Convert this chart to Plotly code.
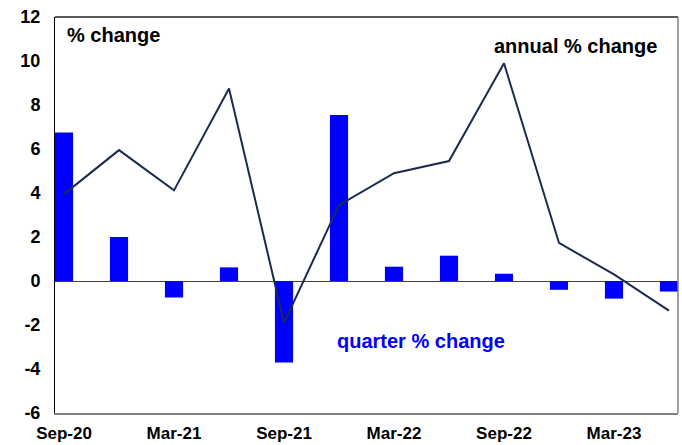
import plotly.graph_objects as go

quarters = ["Sep-20", "Dec-20", "Mar-21", "Jun-21", "Sep-21", "Dec-21",
            "Mar-22", "Jun-22", "Sep-22", "Dec-22", "Mar-23", "Jun-23"]
quarter_change = [6.75, 2.0, -0.75, 0.62, -3.7, 7.55, 0.65, 1.15, 0.33, -0.4, -0.8, -0.48]
annual_change = [3.95, 5.95, 4.12, 8.75, -1.9, 3.45, 4.9, 5.45, 9.9, 1.73, 0.3, -1.35]
tick_labels = ["Sep-20", "Mar-21", "Sep-21", "Mar-22", "Sep-22", "Mar-23"]
y_ticks = [-6, -4, -2, 0, 2, 4, 6, 8, 10, 12]

font = "Liberation Sans, Arial, sans-serif"
x = list(range(len(quarters)))

fig = go.Figure()
fig.add_trace(go.Bar(x=x, y=quarter_change, width=0.33,
                     marker=dict(color="#0000ff", line=dict(width=0)),
                     name="quarter % change"))
fig.add_trace(go.Scatter(x=x, y=annual_change, mode="lines",
                         line=dict(color="#1b2b4f", width=2),
                         name="annual % change"))

tickvals = [quarters.index(t) for t in tick_labels]

fig.update_layout(
    width=682, height=445,
    margin=dict(l=55, r=4, t=17, b=32),
    plot_bgcolor="white", paper_bgcolor="white",
    showlegend=False,
    font=dict(family=font, size=16, color="black"),
    xaxis=dict(range=[-0.164, 11.164], tickvals=tickvals,
               ticktext=["<b>%s</b>" % t for t in tick_labels],
               showgrid=False, zeroline=False, ticks="", automargin=False,
               ticklabelstandoff=4,
               showline=True, linecolor="#808080", linewidth=2, mirror=False,
               tickfont=dict(family=font, size=17, color="black")),
    yaxis=dict(range=[-6, 12], tickvals=y_ticks,
               ticktext=["<b>%s</b>" % str(v) for v in y_ticks],
               showgrid=False, automargin=False, ticklabelstandoff=10,
               zeroline=True, zerolinecolor="#404040", zerolinewidth=1,
               showline=True, linecolor="black", linewidth=1, ticks="",
               tickfont=dict(family=font, size=18, color="black")),
    annotations=[
        dict(text="<b>% change</b>", x=0.016, y=0.955, xref="paper", yref="paper",
             xanchor="left", yanchor="middle", showarrow=False,
             font=dict(family=font, size=20, color="black")),
        dict(text="<b>annual % change</b>", x=0.835, y=0.927, xref="paper", yref="paper",
             xanchor="center", yanchor="middle", showarrow=False,
             font=dict(family=font, size=20, color="black")),
        dict(text="<b>quarter % change</b>", x=0.587, y=0.182, xref="paper", yref="paper",
             xanchor="center", yanchor="middle", showarrow=False,
             font=dict(family=font, size=20, color="#0000ff")),
    ],
    shapes=[
        dict(type="line", xref="paper", yref="paper", x0=0, x1=1, y0=1, y1=1,
             line=dict(color="#222222", width=1.5)),
        dict(type="line", xref="paper", yref="paper", x0=1, x1=1, y0=0, y1=1,
             line=dict(color="#808080", width=1.5)),
    ],
)

# the page body has a default 8px margin; drop it so the figure fills the window
fig.write_html("out.html", config={"displayModeBar": False},
               post_script="document.body.style.margin = '0';")
